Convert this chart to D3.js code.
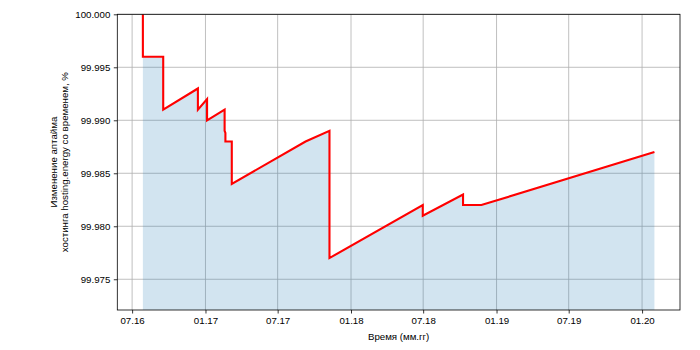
<!DOCTYPE html>
<html>
<head>
<meta charset="utf-8">
<script src="https://cdn.jsdelivr.net/npm/d3@7"></script>
<style>
  html, body { margin: 0; padding: 0; background: #fff; }
  svg { display: block; }
  text { font-family: "Liberation Sans", Arial, sans-serif; }
</style>
</head>
<body>
<svg id="chart" width="700" height="350"></svg>
<script>
// ---- data ----
const dates = [
  "2016-07-28", "2016-07-28", "2016-09-17", "2016-09-17",
  "2016-12-13", "2016-12-13", "2017-01-05", "2017-01-05",
  "2017-02-18", "2017-02-18", "2017-02-20", "2017-02-20",
  "2017-03-08", "2017-03-08", "2017-09-09", "2017-11-08",
  "2017-11-08", "2018-06-30", "2018-06-30", "2018-10-09",
  "2018-10-09", "2018-11-24", "2020-02-01"
];
const uptime = [
  100.000, 99.996, 99.996, 99.991,
  99.993, 99.991, 99.992, 99.990,
  99.991, 99.989, 99.9888, 99.988,
  99.988, 99.984, 99.988, 99.989,
  99.977, 99.982, 99.981, 99.983,
  99.982, 99.982, 99.987
];
const yTicks = [99.975, 99.980, 99.985, 99.990, 99.995, 100.000];
const yLabelLines = ["Изменение аптайма", "хостинга hosting.energy со временем, %"];
const xLabel = "Время (мм.гг)";

// ---- layout ----
const svg = d3.select("#chart");
const L = 117.3, R = 680, T = 14.3, B = 310;
const parse = d3.timeParse("%Y-%m-%d");
const data = dates.map((d, i) => ({ t: parse(d), v: uptime[i] }));

const ext = d3.extent(data, d => d.t);
const span = ext[1] - ext[0];
const x = d3.scaleTime()
  .domain([new Date(+ext[0] - span * 0.05), new Date(+ext[1] + span * 0.05)])
  .range([L, R]);
const y = d3.scaleLinear().domain([99.9721, 100.000]).range([B, T]);

const fontSize = 9.7;

// grid
const xTickVals = x.ticks(d3.timeMonth.every(6));
const g = svg.append("g");
g.selectAll("line.xg").data(xTickVals).enter().append("line")
  .attr("x1", d => x(d)).attr("x2", d => x(d))
  .attr("y1", T).attr("y2", B)
  .attr("stroke", "#b0b0b0").attr("stroke-width", 0.8);
g.selectAll("line.yg").data(yTicks).enter().append("line")
  .attr("x1", L).attr("x2", R)
  .attr("y1", d => y(d)).attr("y2", d => y(d))
  .attr("stroke", "#b0b0b0").attr("stroke-width", 0.8);

// clip
svg.append("clipPath").attr("id", "clip").append("rect")
  .attr("x", L).attr("y", T).attr("width", R - L).attr("height", B - T);

// area
const area = d3.area().x(d => x(d.t)).y0(B).y1(d => y(d.v));
svg.append("path").datum(data)
  .attr("clip-path", "url(#clip)")
  .attr("d", area)
  .attr("fill", "#1f77b4").attr("fill-opacity", 0.2);

// line
const line = d3.line().x(d => x(d.t)).y(d => y(d.v));
svg.append("path").datum(data)
  .attr("clip-path", "url(#clip)")
  .attr("d", line)
  .attr("fill", "none").attr("stroke", "#ff0000")
  .attr("stroke-width", 2.1).attr("stroke-linejoin", "miter");

// axes
const xAxis = d3.axisBottom(x).tickValues(xTickVals)
  .tickFormat(d3.timeFormat("%m.%y")).tickSize(3.5).tickPadding(3.5);
const yAxis = d3.axisLeft(y).tickValues(yTicks)
  .tickFormat(d3.format(".3f")).tickSize(3.5).tickPadding(3.5);

const gx = svg.append("g").attr("transform", `translate(0,${B})`).call(xAxis);
const gy = svg.append("g").attr("transform", `translate(${L},0)`).call(yAxis);
[gx, gy].forEach(a => {
  a.select(".domain").remove();
  a.selectAll(".tick line").attr("stroke", "#000").attr("stroke-width", 0.8);
  a.selectAll(".tick text").attr("fill", "#000")
    .style("font-size", fontSize + "px")
    .style("font-family", '"Liberation Sans", Arial, sans-serif');
});

// frame
svg.append("rect").attr("x", L).attr("y", T).attr("width", R - L).attr("height", B - T)
  .attr("fill", "none").attr("stroke", "#000").attr("stroke-width", 0.8);

// labels
svg.append("text").attr("x", (L + R) / 2).attr("y", 339.5)
  .attr("text-anchor", "middle").style("font-size", fontSize + "px")
  .text(xLabel);

const yl = svg.append("text")
  .attr("transform", `translate(0,${(T + B) / 2}) rotate(-90)`)
  .attr("text-anchor", "middle").style("font-size", fontSize + "px");
yl.selectAll("tspan").data(yLabelLines).enter().append("tspan")
  .attr("x", 0).attr("y", (d, i) => 56.5 + i * 11)
  .text(d => d);
</script>
</body>
</html>
